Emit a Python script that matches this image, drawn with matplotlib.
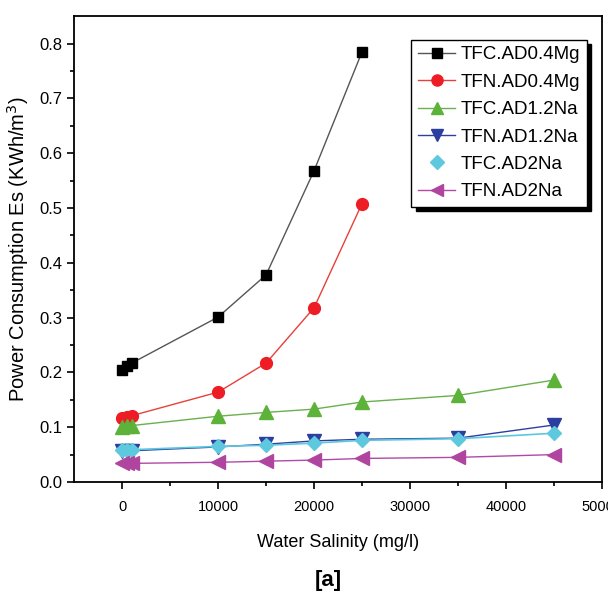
import matplotlib.pyplot as plt
from matplotlib.lines import Line2D

plt.rcParams['font.family'] = ['Liberation Sans', 'DejaVu Sans']

salinity = [0, 500, 1000, 10000, 15000, 20000, 25000, 35000, 45000]
salinity_mg = salinity[:7]

tfc_mg = [0.205, 0.212, 0.217, 0.301, 0.378, 0.568, 0.785]
tfn_mg = [0.116, 0.118, 0.121, 0.164, 0.217, 0.318, 0.508]
tfc_na12 = [0.101, 0.102, 0.103, 0.120, 0.127, 0.133, 0.146, 0.158, 0.186]
tfn_na12 = [0.056, 0.056, 0.057, 0.064, 0.069, 0.075, 0.078, 0.080, 0.104]
tfc_na2 = [0.059, 0.059, 0.059, 0.065, 0.067, 0.071, 0.076, 0.079, 0.089]
tfn_na2 = [0.034, 0.034, 0.034, 0.036, 0.038, 0.040, 0.043, 0.045, 0.050]

labels = ["TFC.AD0.4Mg", "TFN.AD0.4Mg", "TFC.AD1.2Na", "TFN.AD1.2Na", "TFC.AD2Na", "TFN.AD2Na"]

fig = plt.figure(figsize=(6.08, 6.01), dpi=100)
ax = fig.add_axes([0.122, 0.198, 0.868, 0.775])

ax.plot(salinity_mg, tfc_mg, color="#555555", lw=1, marker="s", ms=7.5,
        mfc="black", mec="black")
ax.plot(salinity_mg, tfn_mg, color="#e8403a", lw=1, marker="o", ms=8.5,
        mfc="#ee1c25", mec="#ee1c25")
ax.plot(salinity, tfc_na12, color="#6ab04c", lw=1, marker="^", ms=9.5,
        mfc="#5db33a", mec="#5db33a")
ax.plot(salinity, tfn_na12, color="#2e3f9e", lw=1, marker="v", ms=9.5,
        mfc="#2c3e9f", mec="#2c3e9f")
ax.plot(salinity, tfc_na2, color="#5bc8e0", lw=1.2, marker="D", ms=7.5,
        mfc="#5ec9de", mec="#5ec9de")
ax.plot(salinity, tfn_na2, color="#b04aa8", lw=1, marker="<", ms=9.5,
        mfc="#b0459f", mec="#b0459f")

handles = [
    Line2D([], [], color="#555555", lw=1, marker="s", ms=7, mfc="black", mec="black"),
    Line2D([], [], color="#e8403a", lw=1, marker="o", ms=8, mfc="#ee1c25", mec="#ee1c25"),
    Line2D([], [], color="#6ab04c", lw=1, marker="^", ms=9, mfc="#5db33a", mec="#5db33a"),
    Line2D([], [], color="#2e3f9e", lw=1, marker="v", ms=9, mfc="#2c3e9f", mec="#2c3e9f"),
    Line2D([], [], color="none", lw=0, marker="D", ms=7, mfc="#5ec9de", mec="#5ec9de"),
    Line2D([], [], color="#b04aa8", lw=1, marker="<", ms=9, mfc="#b0459f", mec="#b0459f"),
]
leg = ax.legend(handles, labels, loc="upper right", bbox_to_anchor=(0.972, 0.95),
                fontsize=13.5, frameon=True, fancybox=False,
                shadow={"color": "black", "alpha": 1, "ox": 3, "oy": -3},
                handlelength=2.0, handletextpad=0.3, labelspacing=0.55, borderpad=0.35,
                borderaxespad=0)
leg.get_frame().set_edgecolor("black")
leg.get_frame().set_linewidth(1)

ax.set_xlim(-5000, 50000)
ax.set_ylim(0, 0.85)
ax.set_xticks([0, 10000, 20000, 30000, 40000, 50000])
ax.set_xticks([5000, 15000, 25000, 35000, 45000], minor=True)
ax.set_yticks([0.0, 0.1, 0.2, 0.3, 0.4, 0.5, 0.6, 0.7, 0.8])
ax.set_yticks([0.05, 0.15, 0.25, 0.35, 0.45, 0.55, 0.65, 0.75], minor=True)
ax.set_yticklabels(["0.0", "0.1", "0.2", "0.3", "0.4", "0.5", "0.6", "0.7", "0.8"])
ax.tick_params(axis="x", which="major", direction="out", length=5, width=1.2, labelsize=10.5, pad=8)
ax.tick_params(axis="x", which="minor", direction="out", length=3, width=1.2)
ax.tick_params(axis="y", which="major", direction="out", length=5, width=1.2, labelsize=12)
ax.tick_params(axis="y", which="minor", direction="out", length=3, width=1.2)
for s in ax.spines.values():
    s.set_linewidth(1.3)

ax.set_xlabel("Water Salinity (mg/l)", fontsize=13, labelpad=14)
ax.set_ylabel("Power Consumption Es (KWh/m$^3$)", fontsize=14.5, labelpad=6)
fig.text(0.54, 0.025, "[a]", fontsize=16, fontweight="bold", ha="center")

fig.savefig("out.png", dpi=100)
